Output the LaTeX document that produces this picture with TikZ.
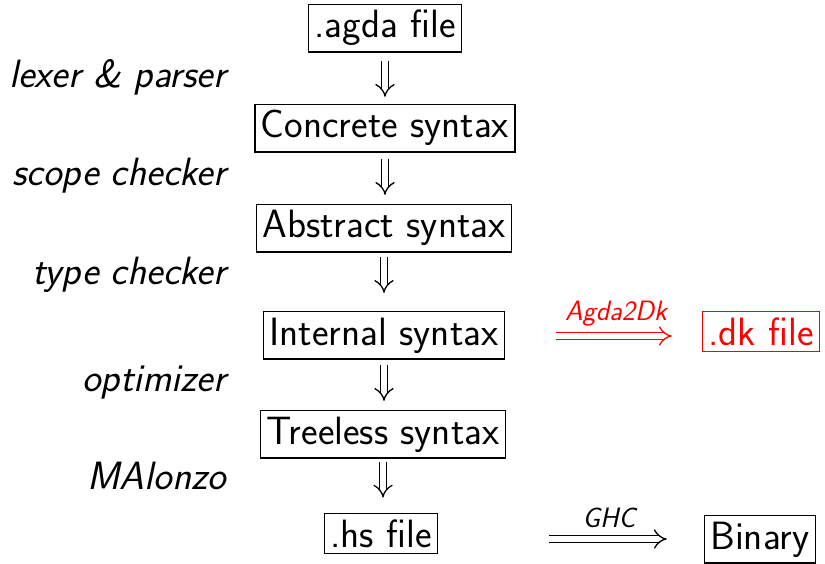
\documentclass[tikz,border=0pt]{standalone}
\usepackage{fontspec}
\usetikzlibrary{arrows.meta}
\begin{document}
\begin{tikzpicture}[x=1pt,y=1pt,
  box/.style={draw, line width=1.4pt, inner sep=6pt, font=\fontsize{39.5}{46}\selectfont\sffamily, anchor=base},
  lbl/.style={font=\fontsize{39.5}{46}\selectfont\sffamily\itshape, anchor=base east, inner sep=0pt},
  dbl/.style={double, double distance=5.5pt, line width=1.3pt, -{Implies}},
  arrlbl/.style={font=\fontsize{28}{33}\selectfont\sffamily\itshape, inner sep=0pt, anchor=base}]
\useasboundingbox (0,0) rectangle (825,-564);
% main column
\node[box] (agda) at (385,-38) {.agda file};
\node[box] (conc) at (385,-138) {Concrete syntax};
\node[box] (abst) at (384,-238) {Abstract syntax};
\node[box] (intl) at (384,-345) {Internal syntax};
\node[box] (tree) at (383,-444) {Treeless syntax};
\node[box] (hs) at (381,-547) {.hs file};
% right column
\node[box, red] (dk) at (761,-345) {.dk file};
\node[box] (bin) at (760,-549) {Binary};
% left labels
\node[lbl] (l1) at (226,-88) {lexer \& parser};
\node[lbl] (l2) at (226,-186) {scope checker};
\node[lbl] (l3) at (226,-284) {type checker};
\node[lbl] (l4) at (226,-391) {optimizer};
\node[lbl] (l5) at (226,-489) {MAlonzo};
% vertical arrows
\draw[dbl, shorten <=8pt, shorten >=7pt] (agda.south) -- (agda.south |- conc.north);
\draw[dbl, shorten <=6pt, shorten >=9pt] (conc.south) -- (conc.south |- abst.north);
\draw[dbl, shorten <=4pt, shorten >=18pt] (abst.south) -- (abst.south |- intl.north);
\draw[dbl, shorten <=5pt, shorten >=9pt] (intl.south) -- (intl.south |- tree.north);
\draw[dbl, shorten <=3pt, shorten >=15pt] (tree.south) -- (tree.south |- hs.north);
% horizontal arrows
\draw[dbl, red, shorten <=51pt, shorten >=30pt] ([yshift=9pt]intl.base east) -- ([yshift=9pt]intl.base east -| dk.west)
  node[arrlbl, pos=0.564, yshift=16pt] {Agda2Dk};
\draw[dbl, shorten <=111pt, shorten >=37pt] ([yshift=8pt]hs.base east) -- ([yshift=8pt]hs.base east -| bin.west)
  node[arrlbl, pos=0.643, yshift=12pt] {GHC};
\end{tikzpicture}
\end{document}
